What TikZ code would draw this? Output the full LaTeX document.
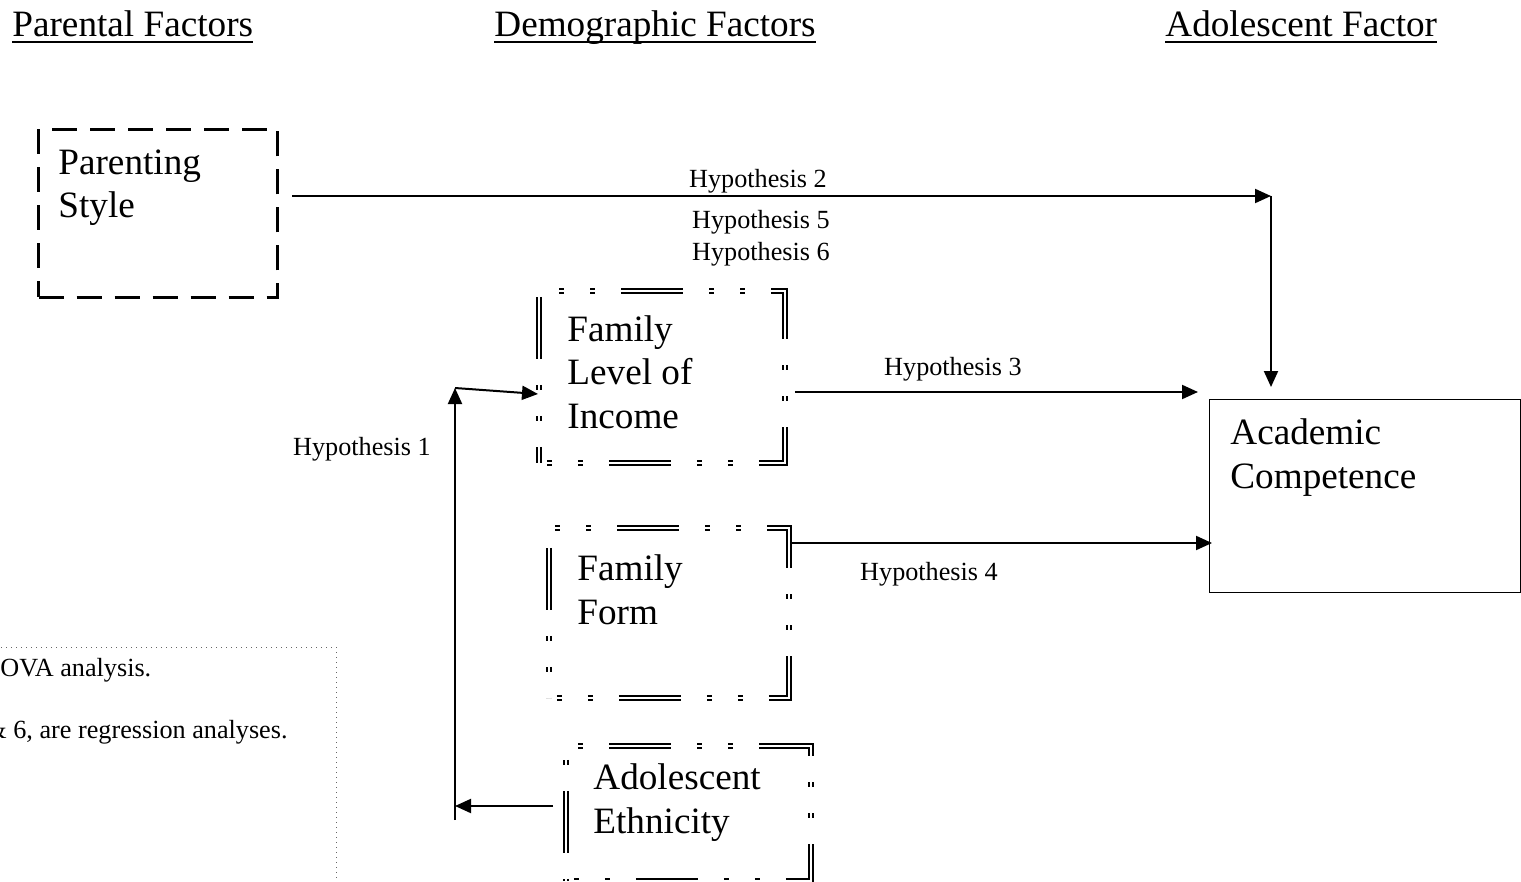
\documentclass[tikz,border=0pt]{standalone}
\usepackage{fontspec}
\setmainfont{Liberation Serif}
\usetikzlibrary{arrows.meta,calc}
\begin{document}
\begin{tikzpicture}[x=0.5pt,y=-0.5pt,
  big/.style={font=\fontsize{18.6}{21.6}\selectfont, inner sep=0pt, align=left},
  sm/.style={font=\fontsize{13.1}{16}\selectfont, inner sep=0pt, align=center},
  dblbox/.style={draw, double, line width=0.95pt, double distance=1pt,
    dash pattern=on 31pt off 13pt on 2.5pt off 13pt on 2.5pt off 13pt, dash phase=40pt, inner sep=0pt, anchor=north west},
  dashbox/.style={draw, line width=1.5pt, dash pattern=on 12.5pt off 6.5pt, inner sep=0pt, anchor=north west},
  plainbox/.style={draw, line width=0.7pt, inner sep=0pt, anchor=north west},
  arr/.style={line width=1pt, -{Triangle[length=8pt,width=7pt]}},
  uline/.style={line width=0.9pt}]
\useasboundingbox (0,0) rectangle (1521,882);
\clip (0,0) rectangle (1521,882);

% titles
\node[big, anchor=base west] (t1) at (12,37) {Parental Factors};
\node[big, anchor=base west] (t2) at (494,37) {Demographic Factors};
\node[big, anchor=base west] (t3) at (1165,37) {Adolescent Factor};
\draw[uline] ([yshift=-2.6pt]t1.base west) -- ([yshift=-2.6pt]t1.base east);
\draw[uline] ([yshift=-2.6pt]t2.base west) -- ([yshift=-2.6pt]t2.base east);
\draw[uline] ([yshift=-2.6pt]t3.base west) -- ([yshift=-2.6pt]t3.base east);

% boxes
\node[dashbox, minimum width=119.5pt, minimum height=84pt] (ps) at (37,128) {};
\node[dblbox, minimum width=123pt, minimum height=86pt] (inc) at (538,290) {};
\node[dblbox, minimum width=120pt, minimum height=85pt] (ff) at (548,527) {};
\node[dblbox, minimum width=122.5pt, minimum height=67.5pt] (eth) at (565,745) {};
\node[plainbox, minimum width=155.5pt, minimum height=96.5pt] (ac) at (1209,399) {};
\node[draw=gray!80!black, line width=0.5pt, dotted, inner sep=0pt, anchor=north west,
      minimum width=180pt, minimum height=150pt] (note) at (-24,647) {};

% box texts (anchor = baseline of last line)
\node[big, anchor=base west] (pst) at (58,218) {Parenting\\Style};
\node[big, anchor=base west] (inct) at (567,428) {Family\\Level of\\Income};
\node[big, anchor=base west] (fft) at (577,624) {Family\\Form};
\node[big, anchor=base west] (etht) at (593,833) {Adolescent\\Ethnicity};
\node[big, anchor=base west] (act) at (1230,488) {Academic\\Competence};

% note texts
\node[sm, anchor=base west] (n1) at (0,676) {OVA analysis.};
\node[sm, anchor=base west] (n2) at (-14,738) {\& 6, are regression analyses.};

% connectors
\coordinate (c2) at (1271,196);
\draw[arr] ([xshift=6.5pt]ps.east |- c2) -- (c2);
\draw[arr] (c2) -- ([yshift=6pt]c2 |- ac.north);
\node[sm, anchor=base] (h2) at (758,188) {Hypothesis 2};
\node[sm, anchor=base] (h56) at (761,261) {Hypothesis 5\\Hypothesis 6};

\coordinate (y3) at (0,392);
\draw[arr] ([xshift=4.5pt]inc.east |- y3) -- ([xshift=-5.5pt]ac.west |- y3);
\node[sm, anchor=base] (h3) at (953,375) {Hypothesis 3};

\coordinate (y4) at (0,543);
\draw[arr] ([xshift=1pt]ff.east |- y4) -- ([xshift=1.5pt]ac.west |- y4);
\node[sm, anchor=base] (h4) at (929,580) {Hypothesis 4};

\coordinate (j) at (455,806);
\coordinate (jb) at (455,820);
\coordinate (jt) at (455,388);
\coordinate (y1) at (0,394);
\draw[arr] ([xshift=-6pt]eth.west |- j) -- (j);
\draw[arr] (jb) -- (jt);
\draw[arr] (jt) -- (inc.west |- y1);
\node[sm, anchor=base] (h1) at (362,455) {Hypothesis 1};
\end{tikzpicture}
\end{document}
